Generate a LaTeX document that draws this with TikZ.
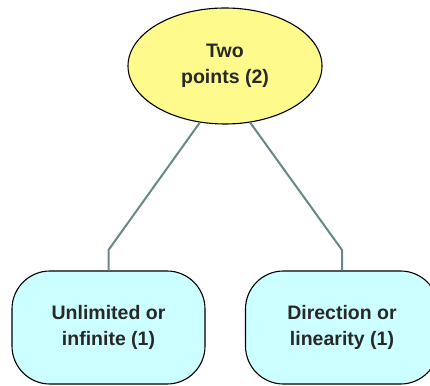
\documentclass[tikz,border=0pt]{standalone}
\usepackage{fontspec}
\setmainfont{Liberation Sans}
\usetikzlibrary{shapes.geometric}
\definecolor{topicfill}{RGB}{255,250,140}
\definecolor{leaffill}{RGB}{204,255,255}
\definecolor{linkgray}{RGB}{105,135,135}
\definecolor{inkgray}{RGB}{40,40,40}
\tikzset{
  topic/.style = {ellipse, draw = black, line width = 1.1pt, fill = topicfill,
    minimum width = 194pt, minimum height = 116pt, inner sep = 0pt,
    align = center, text = inkgray, font = \fontsize{19.5}{26}\selectfont\bfseries},
  leaf/.style = {rectangle, rounded corners = 38pt, draw = black, line width = 1.1pt,
    fill = leaffill, minimum width = 193pt, minimum height = 113pt, inner sep = 0pt,
    align = center, text = inkgray, font = \fontsize{19.5}{26}\selectfont\bfseries},
  link/.style = {draw = linkgray, line width = 2pt}
}
\begin{document}
\begin{tikzpicture}[x = 1pt, y = 1pt]
      \useasboundingbox (0, 0) rectangle (430, 385);
      \node [topic] (two) at (225, 319) {Two\\points (2)};
      \node [leaf] (unl) at (108.5, 57.5) {Unlimited or\\infinite (1)};
      \node [leaf] (dir) at (342, 57.5) {Direction or\\linearity (1)};
      \coordinate (bendl) at (108.5, 135);
      \coordinate (bendr) at (342, 135);
      \draw [link] (two.246) -- (bendl) -- (unl.north);
      \draw [link] (two.294) -- (bendr) -- (dir.north);
    \end{tikzpicture}
\end{document}
